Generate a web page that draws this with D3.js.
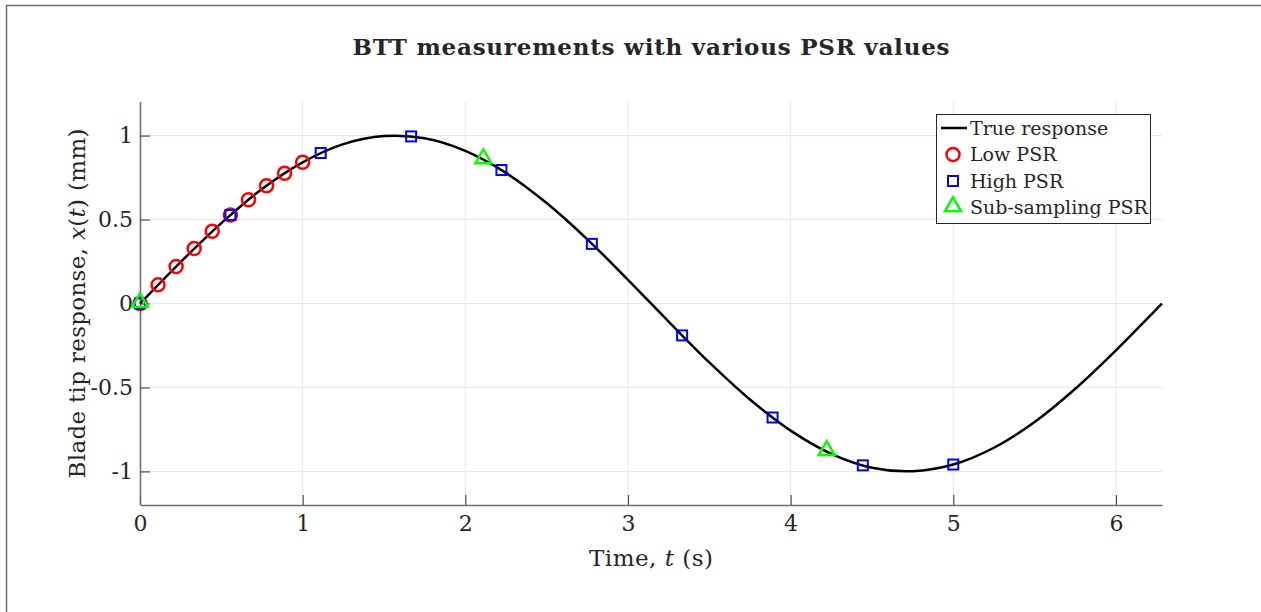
<!DOCTYPE html>
<html>
<head>
<meta charset="utf-8">
<script src="https://cdn.jsdelivr.net/npm/d3@7"></script>
<style>
  body { margin: 0; background: #fff; }
  text { font-family: "DejaVu Serif", "Liberation Serif", serif; fill: #262626; }
</style>
</head>
<body>
<div id="chart"></div>
<script>
// true response
var trueT = [0, 0.25, 0.5, 0.75, 1.0, 1.25, 1.5, 1.75, 2.0, 2.25, 2.5, 2.75, 3.0, 3.25, 3.5,
  3.75, 4.0, 4.25, 4.5, 4.75, 5.0, 5.25, 5.5, 5.75, 6.0, 6.25, 6.283];
var trueX = [0, 0.247, 0.479, 0.682, 0.841, 0.949, 0.997, 0.984, 0.909, 0.778, 0.598, 0.382, 0.141,
  -0.108, -0.351, -0.572, -0.757, -0.895, -0.978, -0.999, -0.959, -0.859, -0.706, -0.508, -0.279, -0.033, 0];

// low PSR samples (circles)
var lowT = [0, 0.111, 0.222, 0.333, 0.444, 0.556, 0.667, 0.778, 0.889, 1.0];
var lowX = [0, 0.111, 0.220, 0.327, 0.430, 0.527, 0.618, 0.701, 0.776, 0.841];

// high PSR samples (squares)
var highT = [0, 0.556, 1.111, 1.667, 2.222, 2.778, 3.333, 3.889, 4.444, 5.0];
var highX = [0, 0.527, 0.896, 0.995, 0.795, 0.355, -0.190, -0.679, -0.964, -0.959];

// sub-sampling PSR (triangles)
var subT = [0, 2.111, 4.222];
var subX = [0, 0.857, -0.881];

var xTicks = [0, 1, 2, 3, 4, 5, 6];
var yTicks = [-1, -0.5, 0, 0.5, 1];
var legendNames = ["True response", "Low PSR", "High PSR", "Sub-sampling PSR"];

var svgWidth = 1261;
var svgHeight = 612;
var margin = {top: 102, right: 99, bottom: 107, left: 140};
var width = svgWidth - margin.left - margin.right;
var height = svgHeight - margin.top - margin.bottom;

var svg = d3.select("#chart")
  .append("svg")
  .attr("width", svgWidth)
  .attr("height", svgHeight);

// figure border
svg.append("path")
  .attr("d", "M6.5," + svgHeight + " L6.5,5.5 L" + svgWidth + ",5.5")
  .attr("fill", "none")
  .attr("stroke", "#6e6e6e")
  .attr("stroke-width", 1.5);

var chartGroup = svg.append("g")
  .attr("transform", `translate(${margin.left}, ${margin.top})`);

var xScale = d3.scaleLinear().domain([0, 6.2832]).range([0, width]);
var yScale = d3.scaleLinear().domain([-1.2, 1.2]).range([height, 0]);

// grid
chartGroup.append("g").selectAll("line")
  .data(xTicks)
  .enter().append("line")
  .attr("x1", d => xScale(d)).attr("x2", d => xScale(d))
  .attr("y1", 0).attr("y2", height)
  .attr("stroke", "#e6e6e6").attr("stroke-width", 1);
chartGroup.append("g").selectAll("line")
  .data(yTicks)
  .enter().append("line")
  .attr("x1", 0).attr("x2", width)
  .attr("y1", d => yScale(d)).attr("y2", d => yScale(d))
  .attr("stroke", "#e6e6e6").attr("stroke-width", 1);

// axes, ticks inside, plain hyphen minus like the original
var fmt = d => String(d);
var bottomAxis = d3.axisBottom(xScale).tickValues(xTicks).tickSize(-10).tickPadding(10)
  .tickSizeOuter(0).tickFormat(fmt);
var leftAxis = d3.axisLeft(yScale).tickValues(yTicks).tickSize(-10).tickPadding(7)
  .tickSizeOuter(0).tickFormat(fmt);

var xAxis = chartGroup.append("g")
  .attr("transform", `translate(0, ${height})`)
  .call(bottomAxis);
var yAxis = chartGroup.append("g")
  .call(leftAxis);

[xAxis, yAxis].forEach(function(ax) {
  ax.attr("font-family", null).attr("font-size", null);
  ax.select(".domain").attr("stroke", "#6e6e6e").attr("stroke-width", 1.5);
  ax.selectAll(".tick line").attr("stroke", "#4d4d4d").attr("stroke-width", 1.2);
  ax.selectAll(".tick text")
    .style("font-size", "22px")
    .attr("fill", "#262626");
});
yAxis.select(".domain").attr("d", `M0.5,0 V${height}`);

// true response line
var line = d3.line()
  .x(d => xScale(d[0]))
  .y(d => yScale(d[1]))
  .curve(d3.curveCatmullRom);
chartGroup.append("path")
  .datum(d3.zip(trueT, trueX))
  .attr("d", line)
  .attr("fill", "none")
  .attr("stroke", "#000")
  .attr("stroke-width", 2.5);

// low PSR circles
chartGroup.selectAll(".low")
  .data(d3.zip(lowT, lowX))
  .enter().append("circle")
  .attr("class", "low")
  .attr("cx", d => xScale(d[0]))
  .attr("cy", d => yScale(d[1]))
  .attr("r", 6.5)
  .attr("fill", "none")
  .attr("stroke", "#ff0000")
  .attr("stroke-width", 2.5);

// high PSR squares
var sq = 10;
chartGroup.selectAll(".high")
  .data(d3.zip(highT, highX))
  .enter().append("rect")
  .attr("class", "high")
  .attr("x", d => xScale(d[0]) - sq / 2)
  .attr("y", d => yScale(d[1]) - sq / 2)
  .attr("width", sq)
  .attr("height", sq)
  .attr("fill", "none")
  .attr("stroke", "#0000ff")
  .attr("stroke-width", 2);

// sub-sampling triangles
var tri = d3.symbol().type(d3.symbolTriangle).size(110);
chartGroup.selectAll(".sub")
  .data(d3.zip(subT, subX))
  .enter().append("path")
  .attr("class", "sub")
  .attr("d", tri)
  .attr("transform", d => `translate(${xScale(d[0])}, ${yScale(d[1]) - 1})`)
  .attr("fill", "none")
  .attr("stroke", "#00ff00")
  .attr("stroke-width", 2.5);

// title
svg.append("text")
  .attr("x", margin.left + width / 2)
  .attr("y", 55)
  .attr("text-anchor", "middle")
  .attr("textLength", 597)
  .attr("lengthAdjust", "spacing")
  .style("font-size", "23px")
  .style("font-weight", "bold")
  .attr("fill", "#000")
  .text("BTT measurements with various PSR values");

// x label
var xl = svg.append("text")
  .attr("x", margin.left + width / 2)
  .attr("y", 566)
  .attr("text-anchor", "middle")
  .attr("textLength", 124)
  .attr("lengthAdjust", "spacing")
  .style("font-size", "23px");
xl.append("tspan").text("Time, ");
xl.append("tspan").style("font-style", "italic").text("t");
xl.append("tspan").text(" (s)");

// y label
var yl = svg.append("text")
  .attr("transform", `translate(85, ${margin.top + height / 2}) rotate(-90)`)
  .attr("text-anchor", "middle")
  .attr("textLength", 350)
  .attr("lengthAdjust", "spacing")
  .style("font-size", "23px");
yl.append("tspan").text("Blade tip response, ");
yl.append("tspan").style("font-style", "italic").text("x");
yl.append("tspan").text("(");
yl.append("tspan").style("font-style", "italic").text("t");
yl.append("tspan").text(") (mm)");

// legend
var legend = svg.append("g").attr("transform", "translate(936, 114)");
legend.append("rect")
  .attr("x", 0.5).attr("y", 0.5)
  .attr("width", 214).attr("height", 109)
  .attr("fill", "#fff")
  .attr("stroke", "#262626")
  .attr("stroke-width", 1);

var rows = legend.selectAll(".row")
  .data(legendNames)
  .enter().append("g")
  .attr("class", "row")
  .attr("transform", (d, i) => `translate(0, ${14 + i * 26.5})`);

rows.append("text")
  .attr("x", 34)
  .attr("y", 6.5)
  .style("font-size", "19px")
  .attr("fill", "#000")
  .text(d => d);

legend.append("line")
  .attr("x1", 5).attr("x2", 31)
  .attr("y1", 14).attr("y2", 14)
  .attr("stroke", "#000").attr("stroke-width", 2.5);
legend.append("circle")
  .attr("cx", 17).attr("cy", 14 + 26.5)
  .attr("r", 6.5)
  .attr("fill", "none").attr("stroke", "#ff0000").attr("stroke-width", 2.5);
legend.append("rect")
  .attr("x", 17 - sq / 2).attr("y", 14 + 53 - sq / 2)
  .attr("width", sq).attr("height", sq)
  .attr("fill", "none").attr("stroke", "#0000ff").attr("stroke-width", 2);
legend.append("path")
  .attr("d", tri)
  .attr("transform", `translate(17, ${14 + 79.5 - 1})`)
  .attr("fill", "none").attr("stroke", "#00ff00").attr("stroke-width", 2.5);
</script>
</body>
</html>
